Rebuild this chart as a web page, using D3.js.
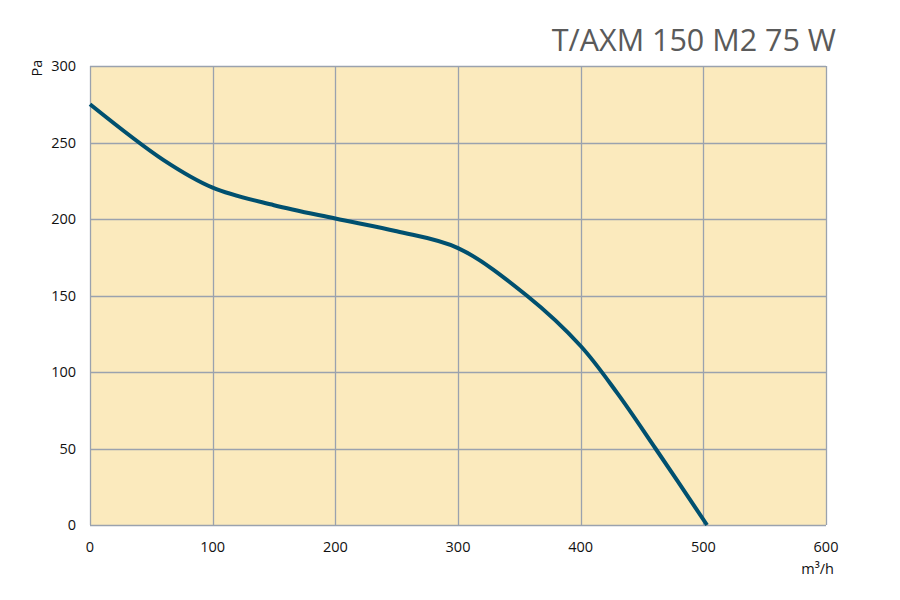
<!DOCTYPE html>
<html>
<head>
<meta charset="utf-8">
<script src="https://cdn.jsdelivr.net/npm/d3@7"></script>
<style>
  body { margin: 0; background: #fff; }
  text { font-family: "Open Sans", "DejaVu Sans", sans-serif; }
</style>
</head>
<body>
<div id="vis"></div>
<script>
// chart data
var flowValues = [0, 60, 100, 150, 200, 250, 300, 356, 400, 430, 461, 503];
var pressureValues = [275, 238.5, 220.5, 209, 200.3, 192, 181, 150, 117, 86, 50, 0];
var xTicks = [0, 100, 200, 300, 400, 500, 600];
var yTicks = [0, 50, 100, 150, 200, 250, 300];
var title = 'T/AXM 150 M2 75 W';

var width = 900;
var height = 600;
var margin = { top: 66, right: 74, bottom: 75, left: 90 };
var innerW = width - margin.left - margin.right;
var innerH = height - margin.top - margin.bottom;

var svg = d3.select('#vis')
  .append('svg')
  .attr('width', width)
  .attr('height', height);

var x = d3.scaleLinear().domain([0, 600]).range([margin.left, margin.left + innerW]);
var y = d3.scaleLinear().domain([0, 300]).range([margin.top + innerH, margin.top]);

// plot background
svg.append('rect')
  .attr('x', x(0))
  .attr('y', y(300))
  .attr('width', x(600) - x(0))
  .attr('height', y(0) - y(300))
  .attr('fill', '#fbeabd');

// grid lines
svg.append('g').selectAll('line.v')
  .data(xTicks)
  .enter().append('line')
  .attr('x1', function (d) { return Math.round(x(d)) + 0.5; })
  .attr('x2', function (d) { return Math.round(x(d)) + 0.5; })
  .attr('y1', y(0))
  .attr('y2', y(300))
  .attr('stroke', '#9aa2ae')
  .attr('stroke-width', 1.3);

svg.append('g').selectAll('line.h')
  .data(yTicks)
  .enter().append('line')
  .attr('x1', x(0))
  .attr('x2', x(600))
  .attr('y1', function (d) { return Math.round(y(d)) + 0.5; })
  .attr('y2', function (d) { return Math.round(y(d)) + 0.5; })
  .attr('stroke', '#9aa2ae')
  .attr('stroke-width', 1.3);

// tick labels
svg.append('g').selectAll('text')
  .data(xTicks)
  .enter().append('text')
  .attr('x', function (d) { return x(d); })
  .attr('y', y(0) + 27)
  .attr('text-anchor', 'middle')
  .attr('font-size', 14.5)
  .attr('fill', '#111')
  .text(function (d) { return d; });

svg.append('g').selectAll('text')
  .data(yTicks)
  .enter().append('text')
  .attr('x', x(0) - 14)
  .attr('y', function (d) { return y(d) + 5; })
  .attr('text-anchor', 'end')
  .attr('font-size', 14.5)
  .attr('fill', '#111')
  .text(function (d) { return d; });

// axis units
svg.append('text')
  .attr('transform', 'translate(42,' + (y(300) + 2) + ') rotate(-90)')
  .attr('text-anchor', 'middle')
  .attr('font-size', 14.5)
  .attr('fill', '#111')
  .text('Pa');

svg.append('text')
  .attr('x', x(600) + 8)
  .attr('y', y(0) + 49)
  .attr('text-anchor', 'end')
  .attr('font-size', 14.5)
  .attr('fill', '#111')
  .text('m³/h');

// title
svg.append('text')
  .attr('x', 836)
  .attr('y', 51)
  .attr('text-anchor', 'end')
  .attr('font-size', 30.5)
  .attr('fill', '#5a5a5a')
  .text(title);

// fan curve
var points = flowValues.map(function (d, i) { return [d, pressureValues[i]]; });
var line = d3.line()
  .x(function (d) { return x(d[0]); })
  .y(function (d) { return y(d[1]); })
  .curve(d3.curveCatmullRom.alpha(0.5));

svg.append('path')
  .datum(points)
  .attr('d', line)
  .attr('fill', 'none')
  .attr('stroke', '#00506f')
  .attr('stroke-width', 4);
</script>
</body>
</html>
